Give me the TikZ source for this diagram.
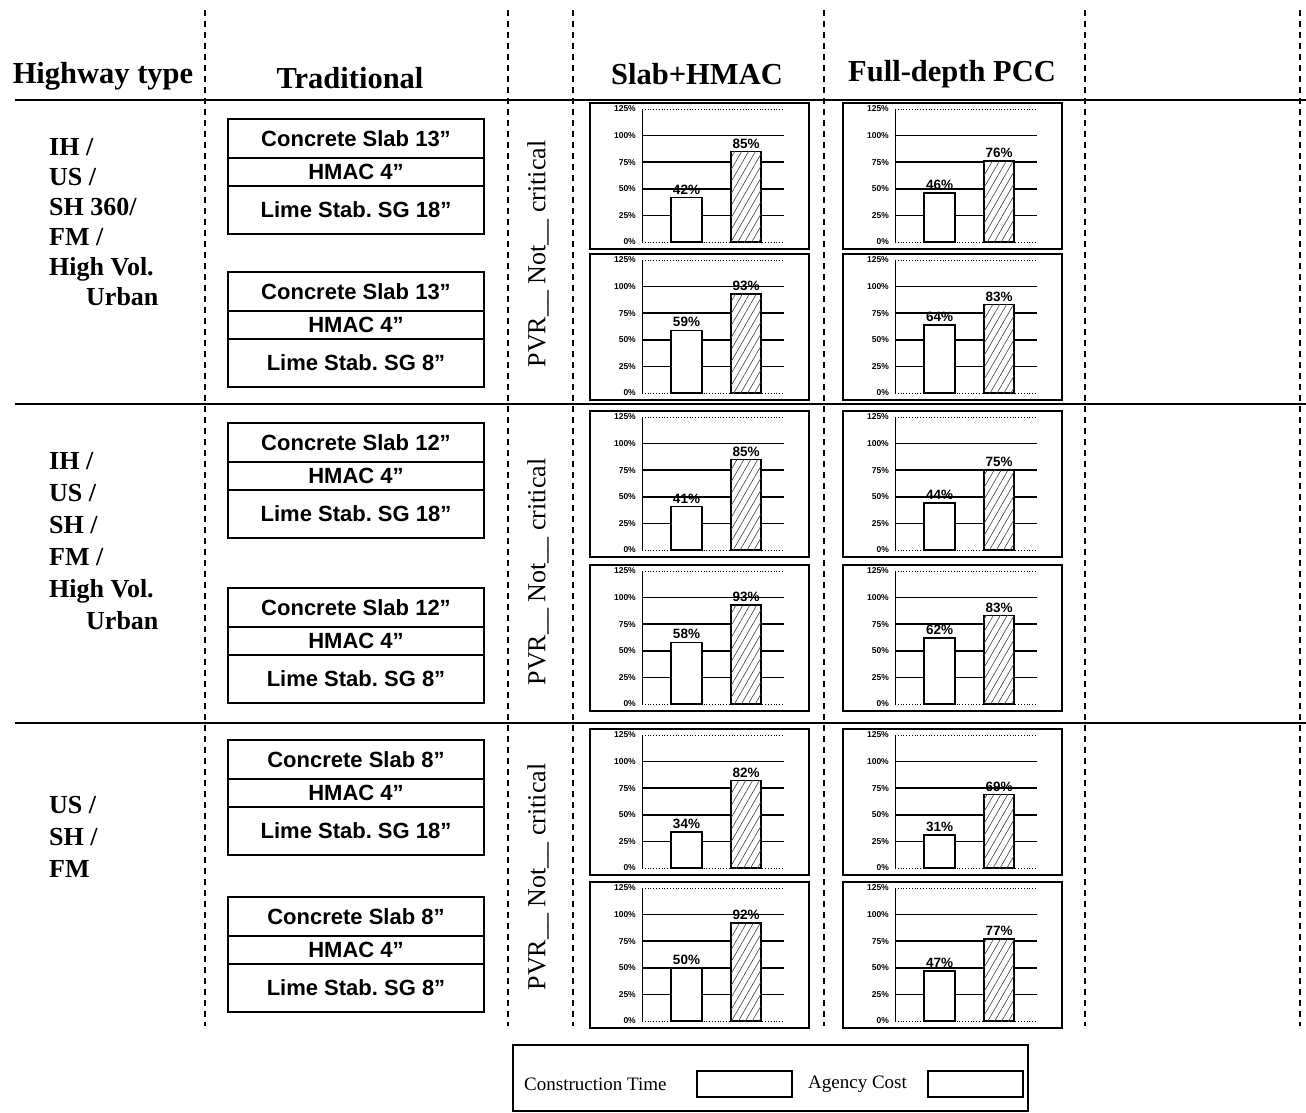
\documentclass[tikz,border=0pt]{standalone}
\usepackage{fontspec}
\setmainfont{Liberation Serif}
\newfontfamily\arialfont{Liberation Sans}
\usetikzlibrary{patterns.meta}
\frenchspacing

\tikzset{
  sepline/.style={line width=2.2pt,dash pattern=on 6pt off 5pt},
  rowline/.style={line width=1.3pt},
  headtxt/.style={font=\bfseries\fontsize{30.5}{32}\selectfont},
  hwytxt/.style={anchor=north west,align=left,inner sep=0pt,font=\bfseries\fontsize{26}{#1}\selectfont},
  layerbox/.style={draw,line width=1.4pt,outer sep=0pt,inner sep=0pt,minimum width=256pt,anchor=north,
    font=\arialfont\bfseries\fontsize{22}{22}\selectfont},
  pvrtxt/.style={rotate=90,font=\fontsize{26}{26}\selectfont},
  frame/.style={line width=1.1pt},
  gridln/.style={line width=1.5pt},
  ticklbl/.style={anchor=east,inner sep=0pt,font=\arialfont\bfseries\fontsize{8.5}{9}\selectfont},
  vallbl/.style={anchor=south,inner sep=1pt,font=\arialfont\bfseries\fontsize{13.5}{14}\selectfont},
  hatchbar/.style={line width=1.4pt,fill=white,postaction={pattern={Lines[angle=60,distance=6pt,line width=0.6pt]},pattern color=black!75}},
  keytxt/.style={anchor=west,inner sep=0pt,font=\fontsize{19}{20}\selectfont},
}

% one pavement section: name, top, slab, subgrade
\newcommand\pavement[4]{
  \node[layerbox,minimum height=39pt] (#1-pcc) at (356,#2) {Concrete Slab #3”};
  \node[layerbox,minimum height=28pt] (#1-ac) at (#1-pcc.south) {HMAC 4”};
  \node[layerbox,minimum height=48pt] (#1-sg) at (#1-ac.south) {Lime Stab. SG #4”};
}

% one bar chart: left, top, time, cost, name
\newcommand\drawchart[5]{
  \begin{scope}[shift={(#1,#2)}]
    \draw[frame] (0,0) rectangle (219,146);
    \foreach \p in {25,50,75,100}
      \draw[gridln] (52,{139-1.064*\p}) -- (194,{139-1.064*\p});
    \draw[dotted,thick] (52,6) -- (194,6);
    \draw[dotted,thick] (52,139) -- (194,139);
    \draw (52,6) -- (52,139);
    \foreach \p in {0,25,50,75,100,125}
      \node[ticklbl] (#5-t\p) at (46,{139-1.064*\p}) {\p\%};
    \draw[line width=1.4pt,fill=white] (81,139) rectangle (112,{139-1.064*#3});
    \draw[hatchbar] (141,139) rectangle (171,{139-1.064*#4});
    \node[vallbl] (#5-a) at (96.5,{137-1.064*#3}) {#3\%};
    \node[vallbl] (#5-b) at (156,{137-1.064*#4}) {#4\%};
  \end{scope}
}

\begin{document}
\begin{tikzpicture}[x=1pt,y=-1pt]
  \useasboundingbox (0,0) rectangle (1306,1112);

  % column and row rules
  \foreach \x in {205,508,573,824,1085,1300}
    \draw[sepline] (\x,10) -- (\x,1026);
  \draw[line width=1.6pt] (15,100) -- (1306,100);
  \foreach \y in {404,723}
    \draw[rowline] (15,\y) -- (1306,\y);

  % headings
  \node[headtxt] (h-type) at (103,76) {Highway type};
  \node[headtxt] (h-trad) at (350,78) {Traditional};
  \node[headtxt] (h-slab) at (697,74) {Slab+HMAC};
  \node[headtxt] (h-full) at (952,74) {Full-depth PCC};

  % highway types
  \node[hwytxt=30] (hwy1) at (49,138) {IH /\\US /\\SH 360/\\FM /\\High Vol.\\\hspace*{37pt}Urban};
  \node[hwytxt=32] (hwy2) at (49,452) {IH /\\US /\\SH /\\FM /\\High Vol.\\\hspace*{37pt}Urban};
  \node[hwytxt=32] (hwy3) at (49,796) {US /\\SH /\\FM};

  % traditional sections
  \pavement{p1}{119}{13}{18}
  \pavement{p2}{272}{13}{8}
  \pavement{p3}{423}{12}{18}
  \pavement{p4}{588}{12}{8}
  \pavement{p5}{740}{8}{18}
  \pavement{p6}{897}{8}{8}

  % criticality
  \foreach \y/\n in {254/1,572/2,877/3}
    \node[pvrtxt] (pvr\n) at (538,\y) {PVR\_\_ Not\_\_ critical};

  % charts
  \foreach \t/\a/\b/\c/\d/\n in {103/42/85/46/76/1,254/59/93/64/83/2,411/41/85/44/75/3,
      565/58/93/62/83/4,729/34/82/31/69/5,882/50/92/47/77/6} {
    \drawchart{590}{\t}{\a}{\b}{s\n}
    \drawchart{843}{\t}{\c}{\d}{f\n}
  }

  % legend
  \draw[line width=1.2pt] (513,1045) rectangle (1028,1111);
  \node[keytxt] (k-time) at (524,1084) {Construction Time};
  \node[draw,line width=1.5pt,minimum width=95pt,minimum height=26pt,inner sep=0pt] (k-tbox) at (744.5,1084) {};
  \node[keytxt] (k-cost) at (808,1084) {Agency Cost};
  \node[draw,line width=1.5pt,minimum width=95pt,minimum height=26pt,inner sep=0pt] (k-cbox) at (975.5,1084) {};
\end{tikzpicture}
\end{document}
